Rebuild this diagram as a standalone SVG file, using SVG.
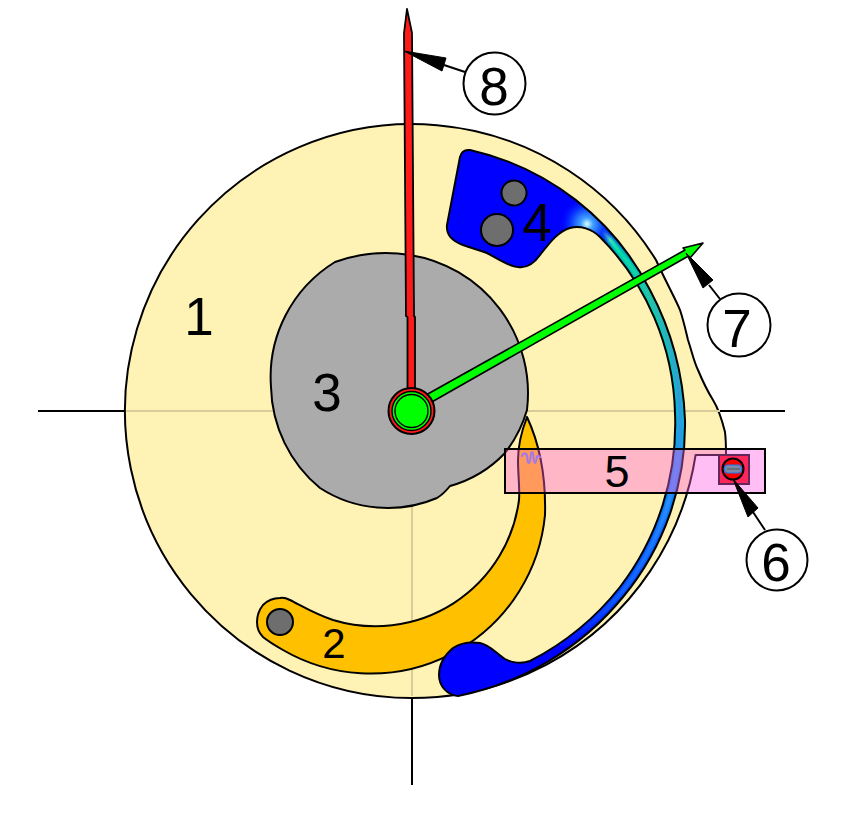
<svg xmlns="http://www.w3.org/2000/svg" width="851" height="823" viewBox="0 0 851 823">
<style>
.o{stroke:#000;stroke-width:2;stroke-linejoin:round}
.l{stroke:#000;stroke-width:2;fill:none}
.t{stroke:#D9CC98;stroke-width:2;fill:none}
.h{fill:#6E6E6E;stroke:#000;stroke-width:2}
.a{fill:#000;stroke:#000;stroke-width:1;stroke-linejoin:round}
.c{fill:#fff;stroke:#000;stroke-width:2}
text{font-family:"Liberation Sans",Arial,sans-serif;font-size:53px;fill:#000;text-anchor:middle}
</style>
<defs>
<path id="spring" d="M460,157 Q462,149 470,150 A268,268 0 0 1 650,290 A300,300 0 0 1 685,420 A270,270 0 0 1 623,597 A285,285 0 0 1 458,696 C448,695 439,687 439,675 C439,662 447,653 453,648 C462,642 472,642 480,643 C490,645 497,654 505,659 C512,663 522,664 530,661 A275,275 0 0 0 620,587 A268,268 0 0 0 675,413 A258,258 0 0 0 600,237 C592,229 580,225 570,228 C558,231 548,245 540,255 C533,265 525,268 518,267 C510,267 500,260 487,253 C479,250 471,248 463,245 C452,241 446,235 447,225 Z"/>
<path id="springMid" d="M592,222 Q605,232 618,250 A264,264 0 0 1 680,413 A272,272 0 0 1 622,592 A280,280 0 0 1 555,650"/>
<clipPath id="springClip"><use href="#spring"/></clipPath>
<linearGradient id="edge" gradientUnits="userSpaceOnUse" x1="0" y1="215" x2="0" y2="650">
<stop offset="0" stop-color="#0000ff"/><stop offset=".08" stop-color="#00a8c0"/><stop offset=".2" stop-color="#00d8a0"/><stop offset=".47" stop-color="#00c0d0"/><stop offset=".61" stop-color="#0090f0"/><stop offset=".75" stop-color="#0060ff"/><stop offset=".93" stop-color="#0030ff"/><stop offset="1" stop-color="#0000ff"/>
</linearGradient>
<linearGradient id="core" gradientUnits="userSpaceOnUse" x1="0" y1="215" x2="0" y2="650">
<stop offset="0" stop-color="#e0ffff"/><stop offset=".08" stop-color="#00e8a0"/><stop offset=".2" stop-color="#30b8b0"/><stop offset=".43" stop-color="#3a90e0"/><stop offset=".66" stop-color="#3090ff"/><stop offset=".88" stop-color="#1060ff"/><stop offset="1" stop-color="#0000ff"/>
</linearGradient>
<radialGradient id="glow" gradientUnits="userSpaceOnUse" cx="587" cy="224" r="28">
<stop offset="0" stop-color="#d8ffff"/><stop offset=".22" stop-color="#40a0ff"/><stop offset=".6" stop-color="#0838ff"/><stop offset="1" stop-color="#0000ff" stop-opacity="0"/>
</radialGradient>
<filter id="soft" x="-10%" y="-10%" width="120%" height="120%"><feGaussianBlur stdDeviation="1.2"/></filter>
</defs>

<g id="axes-outer"><path class="l" d="M38,411H785M412,500V785"/></g>

<g id="node-1">
<path class="o" fill="#FFF2B5" d="M656,260 C665,280 676,300 680,310 C684,322 686,332 688,340 C692,352 694,362 698,370 C703,382 708,392 713,400 C718,408 722,420 725,432 C726,440 726,448 726,455 L695.6,455 A287,287 0 1 1 656,260 Z"/>
<path class="t" d="M126,411H720M412,420V696"/>
<text x="199" y="335">1</text>
</g>

<g id="node-2">
<path class="o" fill="#FFC000" d="M527,417 C522,430 518,445 518,460 C518,475 520,490 519,500 A145,145 0 0 1 333,620 C315,614 302,606 290,600 C286,598 283,597 280,598 C272,598 267,601 263,605 C259,610 257,616 257,622 C257,628 259,633 263,637 C269,642 276,646 283,650 A175,175 0 0 0 545,515 C546,480 540,445 527,417 Z"/>
<circle class="h" cx="280" cy="622" r="13"/>
<text x="334" y="658" style="font-size:42px">2</text>
</g>

<g id="node-3">
<path class="o" fill="#ABABAB" d="M335,262 A150,150 0 0 1 410,255 A140,140 0 0 1 527,410 A128,128 0 0 1 505,453 A120,120 0 0 1 450,486 C446,491 442,495 437,498 A125,125 0 0 1 320,488 A135,135 0 0 1 271,387 A135,135 0 0 1 335,262 Z"/>
<text x="327" y="411">3</text>
</g>

<g id="node-4">
<use href="#spring" fill="#0000ff"/>
<g clip-path="url(#springClip)">
<use href="#springMid" fill="none" stroke="url(#edge)" stroke-width="11" filter="url(#soft)"/>
<use href="#springMid" fill="none" stroke="url(#core)" stroke-width="4" filter="url(#soft)"/>
<circle cx="587" cy="224" r="28" fill="url(#glow)"/>
</g>
<use href="#spring" fill="none" stroke="#000" stroke-width="2" stroke-linejoin="round"/>
<circle class="h" cx="514" cy="193" r="12.5"/>
<circle class="h" cx="497" cy="230" r="16"/>
<text x="537" y="241">4</text>
</g>

<g id="node-6-base">
<rect x="719" y="455" width="30" height="29" fill="#FF0000" stroke="#000" stroke-width="2"/>
</g>

<g id="node-5">
<path d="M522,457 c0,-4 4,-5 5,-1 c1,4 0,7 2,7 c2,0 1,-11 3,-11 c2,0 1,11 3,11 c2,0 1,-8 3,-7 c1,0 2,1 2,2" fill="none" stroke="#5F88FF" stroke-width="2"/>
<rect x="505" y="449" width="260" height="44" fill="#FF5FE7" fill-opacity=".4" stroke="#000" stroke-width="2"/>
<text x="617" y="487" style="font-size:45px">5</text>
</g>

<g id="node-6">
<circle cx="733" cy="469" r="10.5" fill="#FF0000" stroke="#000" stroke-width="2"/>
<rect x="724.5" y="465" width="17" height="8" rx="3.5" fill="#7A8AA8" stroke="#1E78F0" stroke-width="1.2"/>
<path d="M727,469H740" stroke="#555" stroke-width="1"/>
</g>

<g id="node-7-needle">
<path fill="#00FF00" stroke="#000" stroke-width="1.6" stroke-linejoin="round" d="M703,243 L683,248 L685,250 L426,395 L430,403 L688.5,256 L690,258 Z"/>
</g>

<g id="node-8-needle">
<path fill="#FF1A1A" stroke="#000" stroke-width="1.8" stroke-linejoin="round" d="M407,9 L404,33 L406,316 L407.5,317 L407.5,392 H415 V317 L414,316 L412,33 Z"/>
</g>

<g id="hub">
<circle cx="411.5" cy="411" r="23" fill="#FF1A1A" stroke="#000" stroke-width="2"/>
<circle cx="411.5" cy="411" r="19.5" fill="#00FF00" stroke="#000" stroke-width="1.4"/>
<circle cx="411.5" cy="411" r="16.5" fill="#00FF00" stroke="#000" stroke-width="1.4"/>
</g>

<g id="connectors">
<path class="l" d="M444,65L465,72M709,285L720,299M753,512L765,530"/>
<polygon class="a" points="404,51 446,58 442,71"/>
<polygon class="a" points="686,253 713,280 703,288"/>
<polygon class="a" points="733,479 758,508 748,517"/>
</g>

<g id="node-8"><circle class="c" cx="494.5" cy="83.5" r="31"/><text x="494" y="105">8</text></g>
<g id="node-7"><circle class="c" cx="739" cy="325" r="31.5"/><text x="737" y="347">7</text></g>
<g id="node-6-label"><circle class="c" cx="777" cy="560" r="30.5"/><text x="776" y="581">6</text></g>
</svg>
